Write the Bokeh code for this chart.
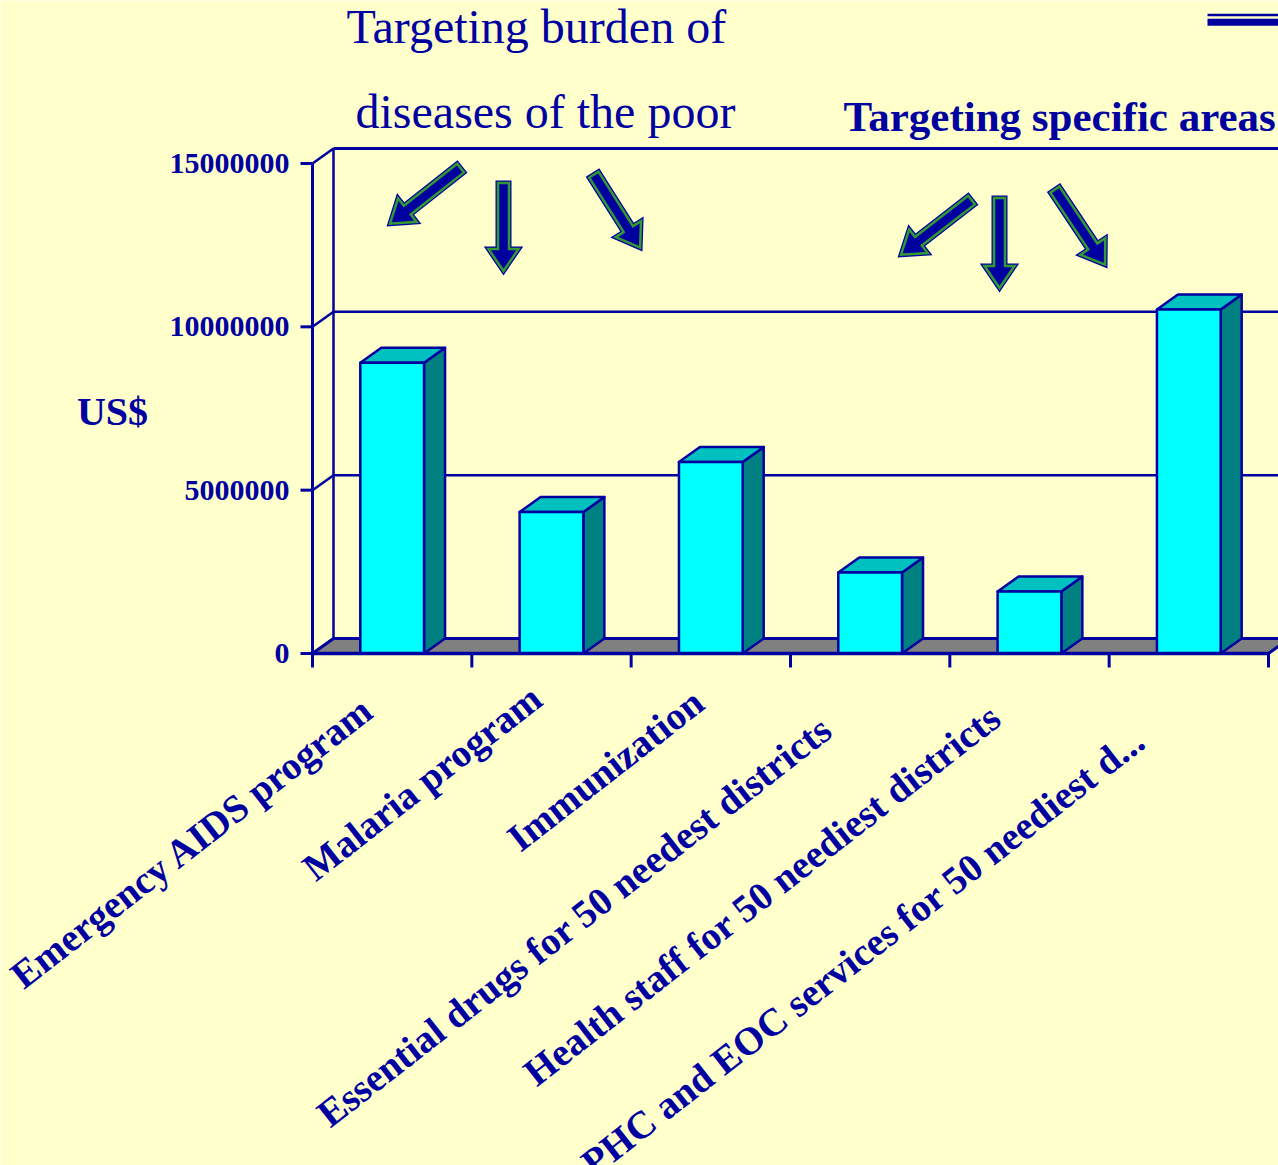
import math
from bokeh.plotting import figure
from bokeh.models import Range1d
from bokeh.core.properties import value
from bokeh.embed import file_html
from bokeh.resources import INLINE

# ---------------- data ----------------
categories = [
    "Emergency AIDS program",
    "Malaria program",
    "Immunization",
    "Essential drugs for 50 needest districts",
    "Health staff for 50 neediest districts",
    "PHC and EOC services for 50 neediest d...",
]
spending_usd = [8900000, 4330000, 5860000, 2480000, 1900000, 10530000]
y_ticks = [0, 5000000, 10000000, 15000000]
y_tick_labels = ["0", "5000000", "10000000", "15000000"]
title_left = ["Targeting burden of", "diseases of the poor"]
title_right = "Targeting specific areas"
y_axis_label = "US$"

# ---------------- layout (pixels) ----------------
W, H = 1278, 1165
ORIGIN_X, ORIGIN_Y = 312.0, 653.0      # pixel of (category 0, US$ 0)
CAT_PX = 159.33                        # pixels per category
USD_PX = 32.667e-6                     # pixels per US$
BAR_WIDTH = 0.40
DEPTH_PX = (21.0, 15.0)
LABEL_ANGLE = 38.0
LABEL_SIZE = 39.0
label_end_px = [(376, 714), (544, 703), (706, 707), (834, 734), (1003, 722), (1147, 745)]
arrows_px = [((462, 166), (386, 226)), ((503, 180), (503, 275)), ((592, 172), (642, 251)),
             ((973, 198), (897, 257)), ((999, 195), (999, 292)), ((1053, 187), (1107, 268))]

NAVY = "#0000A0"
BG = "#FFFFCC"
FONT = value("Liberation Serif")
MID = 0.34  # em distance from baseline to text middle


def X(px):
    return (px - ORIGIN_X) / CAT_PX


def Y(py):
    return (ORIGIN_Y - py) / USD_PX


DX = DEPTH_PX[0] / CAT_PX
DY = DEPTH_PX[1] / USD_PX
N = len(categories)
YMAX = y_ticks[-1]

p = figure(width=W, height=H, output_backend="svg", toolbar_location=None,
           x_axis_type=None, y_axis_type=None, title=None,
           x_range=Range1d(X(0), X(W)), y_range=Range1d(Y(H), Y(0)),
           min_border=0, background_fill_color=BG, border_fill_color=BG,
           outline_line_color=None)

# back wall gridlines
for t in y_ticks[1:]:
    p.segment(x0=[DX], y0=[t + DY], x1=[X(W) + 1], y1=[t + DY],
              line_color=NAVY, line_width=3 if t == YMAX else 2.5)
# left wall
p.segment(x0=[DX], y0=[DY], x1=[DX], y1=[YMAX + DY], line_color=NAVY, line_width=2.5)
p.segment(x0=[0] * len(y_ticks), y0=y_ticks, x1=[DX] * len(y_ticks),
          y1=[t + DY for t in y_ticks], line_color=NAVY, line_width=2.5)

# floor
p.patch(x=[0, N, N + DX, DX], y=[0, 0, DY, DY], fill_color="#808080",
        line_color=NAVY, line_width=3)

# bars
for i, v in enumerate(spending_usd):
    x0 = i + (1 - BAR_WIDTH) / 2
    x1 = x0 + BAR_WIDTH
    p.patch(x=[x1, x1 + DX, x1 + DX, x1], y=[0, DY, v + DY, v],
            fill_color="#008080", line_color=NAVY, line_width=2.5, line_join="round")
    p.patch(x=[x0, x1, x1 + DX, x0 + DX], y=[v, v, v + DY, v + DY],
            fill_color="#00C0C0", line_color=NAVY, line_width=2.5, line_join="round")
    p.patch(x=[x0, x1, x1, x0], y=[0, 0, v, v],
            fill_color="#00FFFF", line_color=NAVY, line_width=2.5, line_join="round")

# front axes
p.segment(x0=[0], y0=[0], x1=[0], y1=[YMAX], line_color=NAVY, line_width=3)
p.segment(x0=[0], y0=[0], x1=[N], y1=[0], line_color=NAVY, line_width=3.5)
tick_len_x = 12 / CAT_PX
p.segment(x0=[-tick_len_x] * len(y_ticks), y0=y_ticks, x1=[0] * len(y_ticks), y1=y_ticks,
          line_color=NAVY, line_width=3)
tick_len_y = 14 / USD_PX
p.segment(x0=list(range(N + 1)), y0=[0] * (N + 1), x1=list(range(N + 1)),
          y1=[-tick_len_y] * (N + 1), line_color=NAVY, line_width=3)

# y tick labels
p.text(x=[X(289)] * len(y_ticks), y=y_ticks, text=y_tick_labels, text_font=FONT,
       text_font_size="30px", text_font_style="bold", text_color=NAVY,
       text_align="right", text_baseline="middle")
p.text(x=[X(112)], y=[Y(411)], text=[y_axis_label], text_font=FONT,
       text_font_size="40px", text_font_style="bold", text_color=NAVY,
       text_align="center", text_baseline="middle")

# category labels (anchor = end of baseline moved up to the text middle)
a = math.radians(LABEL_ANGLE)
off = MID * LABEL_SIZE
lab_x = [X(ex - math.sin(a) * off) for ex, ey in label_end_px]
lab_y = [Y(ey - math.cos(a) * off) for ex, ey in label_end_px]
p.text(x=lab_x, y=lab_y, text=categories, angle=LABEL_ANGLE, angle_units="deg",
       text_font=FONT, text_font_size=f"{LABEL_SIZE}px", text_font_style="bold",
       text_color=NAVY, text_align="right", text_baseline="middle")

# titles
p.text(x=[X(346), X(355)], y=[Y(42 - MID * 48), Y(127 - MID * 48)], text=title_left,
       text_font=FONT, text_font_size="48px", text_color=NAVY, text_align="left",
       text_baseline="middle")
p.text(x=[X(843)], y=[Y(131 - MID * 43)], text=[title_right], text_font=FONT,
       text_font_size="43px", text_font_style="bold", text_color=NAVY,
       text_align="left", text_baseline="middle")

# legend key fragment (top right)
p.segment(x0=[X(1207)], y0=[Y(14.5)], x1=[X(W) + 1], y1=[Y(14.5)], line_color=NAVY, line_width=2.5)
p.segment(x0=[X(1207)], y0=[Y(21.8)], x1=[X(W) + 1], y1=[Y(21.8)], line_color=NAVY, line_width=7)


# arrows
def arrow_poly(tail, tip, shaft_hw=5.5, head_hw=15.0, head_len=22.0):
    tx, ty = tail
    qx, qy = tip
    L = math.hypot(qx - tx, qy - ty)
    ux, uy = (qx - tx) / L, (qy - ty) / L
    tx, ty = tx + ux * 2.5, ty + uy * 2.5
    qx, qy = qx - ux * 4.5, qy - uy * 4.5
    nx, ny = -uy, ux
    bx, by = qx - ux * head_len, qy - uy * head_len
    pts = [(tx + nx * shaft_hw, ty + ny * shaft_hw), (bx + nx * shaft_hw, by + ny * shaft_hw),
           (bx + nx * head_hw, by + ny * head_hw), (qx, qy),
           (bx - nx * head_hw, by - ny * head_hw), (bx - nx * shaft_hw, by - ny * shaft_hw),
           (tx - nx * shaft_hw, ty - ny * shaft_hw)]
    return [X(u) for u, w in pts], [Y(w) for u, w in pts]


axs, ays = [], []
for tail, tip in arrows_px:
    xs_, ys_ = arrow_poly(tail, tip)
    axs.append(xs_)
    ays.append(ys_)
p.patches(xs=axs, ys=ays, fill_color=NAVY, line_color=NAVY, line_width=5, line_join="miter")
p.patches(xs=axs, ys=ays, fill_color=None, line_color="#339933", line_width=2.5, line_join="miter")

open("out.html", "w").write(file_html(p, INLINE))
